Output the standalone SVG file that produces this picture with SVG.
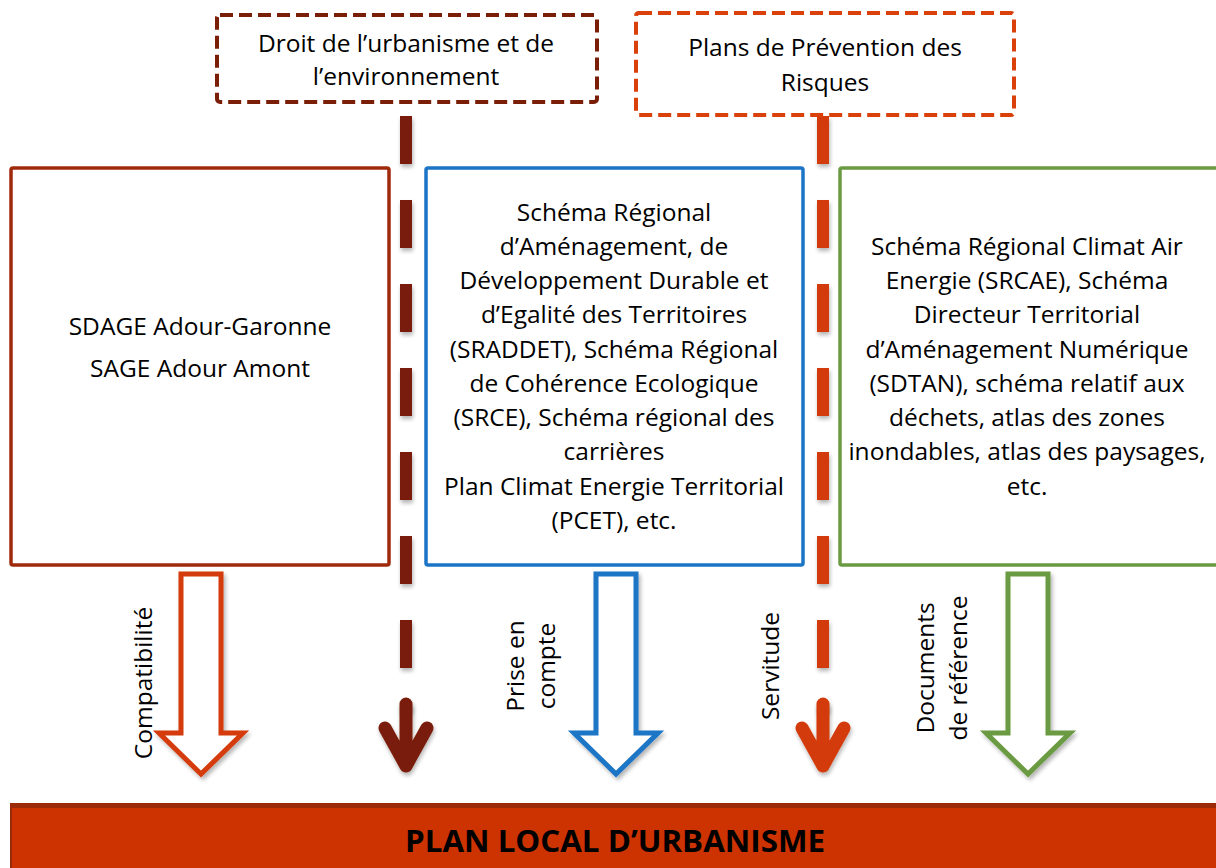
<svg xmlns="http://www.w3.org/2000/svg" width="1216" height="868" viewBox="0 0 1216 868">
<defs>
<style>
.t{font-family:"Open Sans","Liberation Sans",Arial,sans-serif;font-size:24.5px;fill:#000;text-anchor:middle}
.lbl{font-family:"Open Sans","Liberation Sans",Arial,sans-serif;font-size:24.5px;fill:#000;text-anchor:middle}
.hollow{fill:#fff;stroke-width:5;stroke-linejoin:miter;filter:url(#sh)}
.dline{fill:none;stroke-width:12;stroke-dasharray:48 36;filter:url(#shl)}
.head{fill:none;stroke-width:13;stroke-linecap:round;stroke-linejoin:round;filter:url(#shl)}
.box{fill:#fff;stroke-width:3.5}
</style>
<filter id="sh" x="-20%" y="-20%" width="140%" height="140%">
<feGaussianBlur in="SourceAlpha" stdDeviation="2"/>
<feOffset dx="2" dy="3" result="b"/>
<feComponentTransfer><feFuncA type="linear" slope="0.3"/></feComponentTransfer>
<feMerge><feMergeNode/><feMergeNode in="SourceGraphic"/></feMerge>
</filter>
<filter id="shl" filterUnits="userSpaceOnUse" x="0" y="0" width="1216" height="868">
<feGaussianBlur in="SourceAlpha" stdDeviation="2"/>
<feOffset dx="1" dy="3" result="b"/>
<feComponentTransfer><feFuncA type="linear" slope="0.3"/></feComponentTransfer>
<feMerge><feMergeNode/><feMergeNode in="SourceGraphic"/></feMerge>
</filter>
</defs>
<rect width="1216" height="868" fill="#fff"/>

<g id="connectors">
<path class="dline" stroke="#7A1E08" d="M406 116 V712"/>
<path class="head" stroke="#7A1E08" d="M406 704 V766 M385 728 L406 766 L427 728"/>
<path class="dline" stroke="#D33A08" d="M823 116 V712"/>
<path class="head" stroke="#D33A08" d="M823 704 V766 M802 728 L823 766 L844 728"/>
<path class="hollow" stroke="#D43A0A" d="M181 574 H221 V733 H243 L201 774 L159 733 H181 Z"/>
<path class="hollow" stroke="#1B74C5" d="M596 574 H636 V733 H658 L616 774 L574 733 H596 Z"/>
<path class="hollow" stroke="#6A9A42" d="M1008 574 H1048 V733 H1070 L1028 774 L986 733 H1008 Z"/>
<text class="lbl" transform="translate(152 683) rotate(-90)">Compatibilité</text>
<text class="lbl" transform="translate(524 666) rotate(-90)">Prise en</text>
<text class="lbl" transform="translate(555 666) rotate(-90)">compte</text>
<text class="lbl" transform="translate(779 666) rotate(-90)">Servitude</text>
<text class="lbl" transform="translate(934 668) rotate(-90)">Documents</text>
<text class="lbl" transform="translate(967 668) rotate(-90)">de référence</text>
</g>

<g id="droit">
<rect x="217" y="15" width="380" height="87" rx="3" fill="#fff" stroke="#7A1E08" stroke-width="4" stroke-dasharray="13 6"/>
<text class="t" x="406" y="52">Droit de l’urbanisme et de</text>
<text class="t" x="406" y="85">l’environnement</text>
</g>

<g id="ppr">
<rect x="636" y="13" width="378" height="102" rx="3" fill="#fff" stroke="#D9400A" stroke-width="4" stroke-dasharray="13 6"/>
<text class="t" x="825" y="56">Plans de Prévention des</text>
<text class="t" x="825" y="91">Risques</text>
</g>

<g id="sdage">
<rect class="box" x="11" y="168" width="378" height="397" rx="2" stroke="#9E2A0B"/>
<text class="t" x="200" y="335">SDAGE Adour-Garonne</text>
<text class="t" x="200" y="377">SAGE Adour Amont</text>
</g>

<g id="sraddet">
<rect class="box" x="426" y="168" width="377" height="397" rx="2" stroke="#1B74C5"/>
<text class="t" x="614" y="221">Schéma Régional</text>
<text class="t" x="614" y="255">d’Aménagement, de</text>
<text class="t" x="614" y="289">Développement Durable et</text>
<text class="t" x="614" y="323">d’Egalité des Territoires</text>
<text class="t" x="614" y="358">(SRADDET), Schéma Régional</text>
<text class="t" x="614" y="392">de Cohérence Ecologique</text>
<text class="t" x="614" y="426">(SRCE), Schéma régional des</text>
<text class="t" x="614" y="460">carrières</text>
<text class="t" x="614" y="495">Plan Climat Energie Territorial</text>
<text class="t" x="614" y="529">(PCET), etc.</text>
</g>

<g id="srcae">
<rect class="box" x="840" y="168" width="380" height="397" rx="2" stroke="#6A9A42"/>
<text class="t" x="1027" y="255">Schéma Régional Climat Air</text>
<text class="t" x="1027" y="289">Energie (SRCAE), Schéma</text>
<text class="t" x="1027" y="323">Directeur Territorial</text>
<text class="t" x="1027" y="358">d’Aménagement Numérique</text>
<text class="t" x="1027" y="392">(SDTAN), schéma relatif aux</text>
<text class="t" x="1027" y="426">déchets, atlas des zones</text>
<text class="t" x="1027" y="460">inondables, atlas des paysages,</text>
<text class="t" x="1027" y="495">etc.</text>
</g>

<g id="plu">
<rect x="10" y="803" width="1210" height="70" fill="#CC3300"/>
<rect x="10" y="803" width="1210" height="5" fill="#9B2A08"/>
<rect x="10" y="803" width="2" height="70" fill="#9B2A08"/>
<text x="615" y="852" font-family="Open Sans, Liberation Sans, Arial, sans-serif" font-weight="bold" font-size="31" text-anchor="middle" textLength="420" lengthAdjust="spacingAndGlyphs" fill="#000">PLAN LOCAL D’URBANISME</text>
</g>
</svg>
